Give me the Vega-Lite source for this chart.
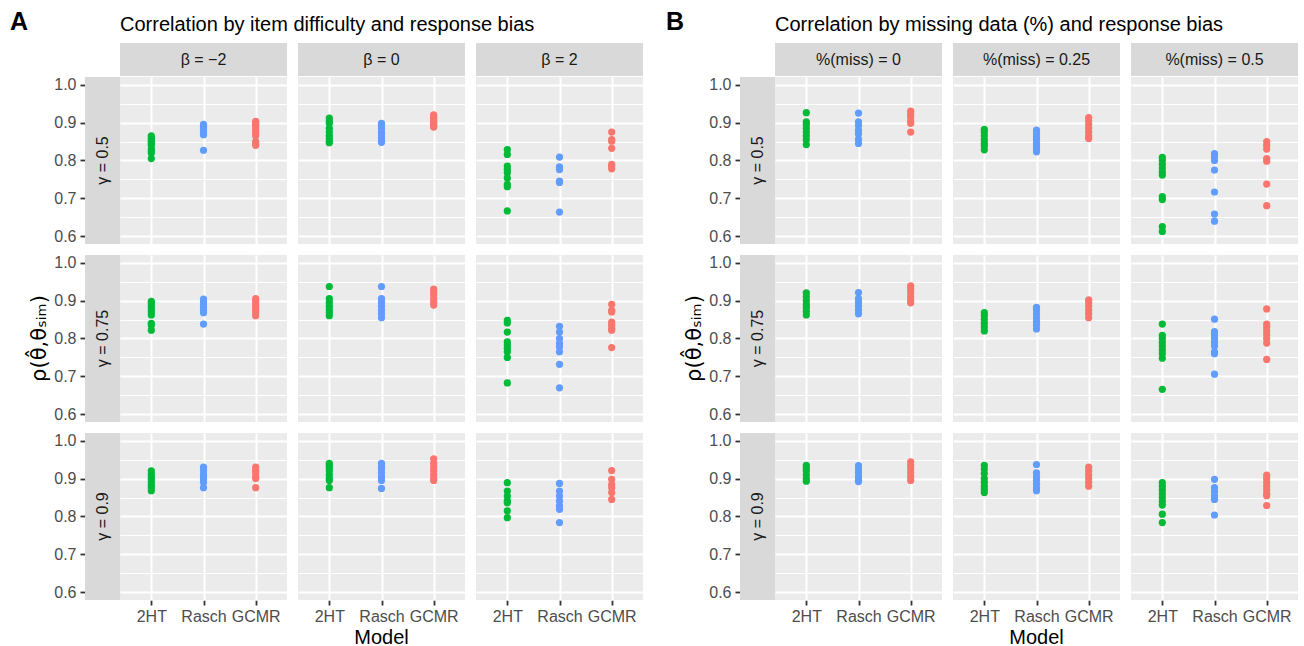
{
"$schema": "https://vega.github.io/schema/vega-lite/v6.json",
"background": "white",
"padding": {"left": 10, "top": 10, "right": 0, "bottom": 0},
"config": {"font": "Liberation Sans", "view": {"stroke": null}},
"datasets": {
"rowLab": [{"g":"γ = 0.5"},{"g":"γ = 0.75"},{"g":"γ = 0.9"}],
"colA": [{"c":"β = −2"},{"c":"β = 0"},{"c":"β = 2"}],
"colB": [{"c":"%(miss) = 0"},{"c":"%(miss) = 0.25"},{"c":"%(miss) = 0.5"}],
"a": [
{"g":0.5,"c":-2,"m":"2HT","r":0.865},{"g":0.5,"c":-2,"m":"2HT","r":0.86},{"g":0.5,"c":-2,"m":"2HT","r":0.855},{"g":0.5,"c":-2,"m":"2HT","r":0.85},{"g":0.5,"c":-2,"m":"2HT","r":0.845},{"g":0.5,"c":-2,"m":"2HT","r":0.84},{"g":0.5,"c":-2,"m":"2HT","r":0.83},{"g":0.5,"c":-2,"m":"2HT","r":0.825},{"g":0.5,"c":-2,"m":"2HT","r":0.82},{"g":0.5,"c":-2,"m":"2HT","r":0.805},
{"g":0.5,"c":-2,"m":"Rasch","r":0.895},{"g":0.5,"c":-2,"m":"Rasch","r":0.89},{"g":0.5,"c":-2,"m":"Rasch","r":0.885},{"g":0.5,"c":-2,"m":"Rasch","r":0.88},{"g":0.5,"c":-2,"m":"Rasch","r":0.875},{"g":0.5,"c":-2,"m":"Rasch","r":0.87},{"g":0.5,"c":-2,"m":"Rasch","r":0.868},{"g":0.5,"c":-2,"m":"Rasch","r":0.827},
{"g":0.5,"c":-2,"m":"GCMR","r":0.903},{"g":0.5,"c":-2,"m":"GCMR","r":0.898},{"g":0.5,"c":-2,"m":"GCMR","r":0.893},{"g":0.5,"c":-2,"m":"GCMR","r":0.888},{"g":0.5,"c":-2,"m":"GCMR","r":0.88},{"g":0.5,"c":-2,"m":"GCMR","r":0.872},{"g":0.5,"c":-2,"m":"GCMR","r":0.865},{"g":0.5,"c":-2,"m":"GCMR","r":0.85},{"g":0.5,"c":-2,"m":"GCMR","r":0.845},{"g":0.5,"c":-2,"m":"GCMR","r":0.84},
{"g":0.5,"c":0,"m":"2HT","r":0.912},{"g":0.5,"c":0,"m":"2HT","r":0.905},{"g":0.5,"c":0,"m":"2HT","r":0.898},{"g":0.5,"c":0,"m":"2HT","r":0.885},{"g":0.5,"c":0,"m":"2HT","r":0.875},{"g":0.5,"c":0,"m":"2HT","r":0.865},{"g":0.5,"c":0,"m":"2HT","r":0.858},{"g":0.5,"c":0,"m":"2HT","r":0.85},{"g":0.5,"c":0,"m":"2HT","r":0.847},
{"g":0.5,"c":0,"m":"Rasch","r":0.898},{"g":0.5,"c":0,"m":"Rasch","r":0.893},{"g":0.5,"c":0,"m":"Rasch","r":0.885},{"g":0.5,"c":0,"m":"Rasch","r":0.875},{"g":0.5,"c":0,"m":"Rasch","r":0.868},{"g":0.5,"c":0,"m":"Rasch","r":0.86},{"g":0.5,"c":0,"m":"Rasch","r":0.853},{"g":0.5,"c":0,"m":"Rasch","r":0.848},
{"g":0.5,"c":0,"m":"GCMR","r":0.92},{"g":0.5,"c":0,"m":"GCMR","r":0.915},{"g":0.5,"c":0,"m":"GCMR","r":0.91},{"g":0.5,"c":0,"m":"GCMR","r":0.905},{"g":0.5,"c":0,"m":"GCMR","r":0.9},{"g":0.5,"c":0,"m":"GCMR","r":0.895},{"g":0.5,"c":0,"m":"GCMR","r":0.89},{"g":0.5,"c":0,"m":"GCMR","r":0.888},
{"g":0.5,"c":2,"m":"2HT","r":0.829},{"g":0.5,"c":2,"m":"2HT","r":0.816},{"g":0.5,"c":2,"m":"2HT","r":0.785},{"g":0.5,"c":2,"m":"2HT","r":0.776},{"g":0.5,"c":2,"m":"2HT","r":0.768},{"g":0.5,"c":2,"m":"2HT","r":0.754},{"g":0.5,"c":2,"m":"2HT","r":0.737},{"g":0.5,"c":2,"m":"2HT","r":0.731},{"g":0.5,"c":2,"m":"2HT","r":0.667},
{"g":0.5,"c":2,"m":"Rasch","r":0.809},{"g":0.5,"c":2,"m":"Rasch","r":0.783},{"g":0.5,"c":2,"m":"Rasch","r":0.776},{"g":0.5,"c":2,"m":"Rasch","r":0.746},{"g":0.5,"c":2,"m":"Rasch","r":0.742},{"g":0.5,"c":2,"m":"Rasch","r":0.664},
{"g":0.5,"c":2,"m":"GCMR","r":0.875},{"g":0.5,"c":2,"m":"GCMR","r":0.855},{"g":0.5,"c":2,"m":"GCMR","r":0.851},{"g":0.5,"c":2,"m":"GCMR","r":0.832},{"g":0.5,"c":2,"m":"GCMR","r":0.79},{"g":0.5,"c":2,"m":"GCMR","r":0.785},{"g":0.5,"c":2,"m":"GCMR","r":0.778},
{"g":0.75,"c":-2,"m":"2HT","r":0.898},{"g":0.75,"c":-2,"m":"2HT","r":0.892},{"g":0.75,"c":-2,"m":"2HT","r":0.885},{"g":0.75,"c":-2,"m":"2HT","r":0.878},{"g":0.75,"c":-2,"m":"2HT","r":0.87},{"g":0.75,"c":-2,"m":"2HT","r":0.862},{"g":0.75,"c":-2,"m":"2HT","r":0.84},{"g":0.75,"c":-2,"m":"2HT","r":0.835},{"g":0.75,"c":-2,"m":"2HT","r":0.822},
{"g":0.75,"c":-2,"m":"Rasch","r":0.904},{"g":0.75,"c":-2,"m":"Rasch","r":0.897},{"g":0.75,"c":-2,"m":"Rasch","r":0.89},{"g":0.75,"c":-2,"m":"Rasch","r":0.882},{"g":0.75,"c":-2,"m":"Rasch","r":0.875},{"g":0.75,"c":-2,"m":"Rasch","r":0.868},{"g":0.75,"c":-2,"m":"Rasch","r":0.838},
{"g":0.75,"c":-2,"m":"GCMR","r":0.905},{"g":0.75,"c":-2,"m":"GCMR","r":0.898},{"g":0.75,"c":-2,"m":"GCMR","r":0.89},{"g":0.75,"c":-2,"m":"GCMR","r":0.882},{"g":0.75,"c":-2,"m":"GCMR","r":0.875},{"g":0.75,"c":-2,"m":"GCMR","r":0.868},{"g":0.75,"c":-2,"m":"GCMR","r":0.86},
{"g":0.75,"c":0,"m":"2HT","r":0.937},{"g":0.75,"c":0,"m":"2HT","r":0.905},{"g":0.75,"c":0,"m":"2HT","r":0.895},{"g":0.75,"c":0,"m":"2HT","r":0.885},{"g":0.75,"c":0,"m":"2HT","r":0.876},{"g":0.75,"c":0,"m":"2HT","r":0.868},{"g":0.75,"c":0,"m":"2HT","r":0.86},
{"g":0.75,"c":0,"m":"Rasch","r":0.937},{"g":0.75,"c":0,"m":"Rasch","r":0.905},{"g":0.75,"c":0,"m":"Rasch","r":0.895},{"g":0.75,"c":0,"m":"Rasch","r":0.885},{"g":0.75,"c":0,"m":"Rasch","r":0.875},{"g":0.75,"c":0,"m":"Rasch","r":0.865},{"g":0.75,"c":0,"m":"Rasch","r":0.855},
{"g":0.75,"c":0,"m":"GCMR","r":0.93},{"g":0.75,"c":0,"m":"GCMR","r":0.922},{"g":0.75,"c":0,"m":"GCMR","r":0.915},{"g":0.75,"c":0,"m":"GCMR","r":0.905},{"g":0.75,"c":0,"m":"GCMR","r":0.895},{"g":0.75,"c":0,"m":"GCMR","r":0.888},
{"g":0.75,"c":2,"m":"2HT","r":0.848},{"g":0.75,"c":2,"m":"2HT","r":0.841},{"g":0.75,"c":2,"m":"2HT","r":0.817},{"g":0.75,"c":2,"m":"2HT","r":0.791},{"g":0.75,"c":2,"m":"2HT","r":0.783},{"g":0.75,"c":2,"m":"2HT","r":0.774},{"g":0.75,"c":2,"m":"2HT","r":0.765},{"g":0.75,"c":2,"m":"2HT","r":0.75},{"g":0.75,"c":2,"m":"2HT","r":0.683},
{"g":0.75,"c":2,"m":"Rasch","r":0.832},{"g":0.75,"c":2,"m":"Rasch","r":0.817},{"g":0.75,"c":2,"m":"Rasch","r":0.8},{"g":0.75,"c":2,"m":"Rasch","r":0.787},{"g":0.75,"c":2,"m":"Rasch","r":0.778},{"g":0.75,"c":2,"m":"Rasch","r":0.765},{"g":0.75,"c":2,"m":"Rasch","r":0.732},{"g":0.75,"c":2,"m":"Rasch","r":0.67},
{"g":0.75,"c":2,"m":"GCMR","r":0.89},{"g":0.75,"c":2,"m":"GCMR","r":0.874},{"g":0.75,"c":2,"m":"GCMR","r":0.87},{"g":0.75,"c":2,"m":"GCMR","r":0.843},{"g":0.75,"c":2,"m":"GCMR","r":0.835},{"g":0.75,"c":2,"m":"GCMR","r":0.826},{"g":0.75,"c":2,"m":"GCMR","r":0.822},{"g":0.75,"c":2,"m":"GCMR","r":0.776},
{"g":0.9,"c":-2,"m":"2HT","r":0.92},{"g":0.9,"c":-2,"m":"2HT","r":0.912},{"g":0.9,"c":-2,"m":"2HT","r":0.905},{"g":0.9,"c":-2,"m":"2HT","r":0.898},{"g":0.9,"c":-2,"m":"2HT","r":0.89},{"g":0.9,"c":-2,"m":"2HT","r":0.882},{"g":0.9,"c":-2,"m":"2HT","r":0.875},{"g":0.9,"c":-2,"m":"2HT","r":0.868},
{"g":0.9,"c":-2,"m":"Rasch","r":0.93},{"g":0.9,"c":-2,"m":"Rasch","r":0.922},{"g":0.9,"c":-2,"m":"Rasch","r":0.912},{"g":0.9,"c":-2,"m":"Rasch","r":0.905},{"g":0.9,"c":-2,"m":"Rasch","r":0.898},{"g":0.9,"c":-2,"m":"Rasch","r":0.89},{"g":0.9,"c":-2,"m":"Rasch","r":0.876},
{"g":0.9,"c":-2,"m":"GCMR","r":0.93},{"g":0.9,"c":-2,"m":"GCMR","r":0.922},{"g":0.9,"c":-2,"m":"GCMR","r":0.915},{"g":0.9,"c":-2,"m":"GCMR","r":0.905},{"g":0.9,"c":-2,"m":"GCMR","r":0.9},{"g":0.9,"c":-2,"m":"GCMR","r":0.876},
{"g":0.9,"c":0,"m":"2HT","r":0.94},{"g":0.9,"c":0,"m":"2HT","r":0.935},{"g":0.9,"c":0,"m":"2HT","r":0.928},{"g":0.9,"c":0,"m":"2HT","r":0.92},{"g":0.9,"c":0,"m":"2HT","r":0.91},{"g":0.9,"c":0,"m":"2HT","r":0.9},{"g":0.9,"c":0,"m":"2HT","r":0.895},{"g":0.9,"c":0,"m":"2HT","r":0.876},
{"g":0.9,"c":0,"m":"Rasch","r":0.94},{"g":0.9,"c":0,"m":"Rasch","r":0.932},{"g":0.9,"c":0,"m":"Rasch","r":0.925},{"g":0.9,"c":0,"m":"Rasch","r":0.915},{"g":0.9,"c":0,"m":"Rasch","r":0.905},{"g":0.9,"c":0,"m":"Rasch","r":0.895},{"g":0.9,"c":0,"m":"Rasch","r":0.874},
{"g":0.9,"c":0,"m":"GCMR","r":0.952},{"g":0.9,"c":0,"m":"GCMR","r":0.94},{"g":0.9,"c":0,"m":"GCMR","r":0.93},{"g":0.9,"c":0,"m":"GCMR","r":0.92},{"g":0.9,"c":0,"m":"GCMR","r":0.91},{"g":0.9,"c":0,"m":"GCMR","r":0.9},{"g":0.9,"c":0,"m":"GCMR","r":0.895},
{"g":0.9,"c":2,"m":"2HT","r":0.889},{"g":0.9,"c":2,"m":"2HT","r":0.867},{"g":0.9,"c":2,"m":"2HT","r":0.854},{"g":0.9,"c":2,"m":"2HT","r":0.841},{"g":0.9,"c":2,"m":"2HT","r":0.836},{"g":0.9,"c":2,"m":"2HT","r":0.815},{"g":0.9,"c":2,"m":"2HT","r":0.797},
{"g":0.9,"c":2,"m":"Rasch","r":0.887},{"g":0.9,"c":2,"m":"Rasch","r":0.867},{"g":0.9,"c":2,"m":"Rasch","r":0.854},{"g":0.9,"c":2,"m":"Rasch","r":0.841},{"g":0.9,"c":2,"m":"Rasch","r":0.828},{"g":0.9,"c":2,"m":"Rasch","r":0.819},{"g":0.9,"c":2,"m":"Rasch","r":0.784},
{"g":0.9,"c":2,"m":"GCMR","r":0.921},{"g":0.9,"c":2,"m":"GCMR","r":0.898},{"g":0.9,"c":2,"m":"GCMR","r":0.884},{"g":0.9,"c":2,"m":"GCMR","r":0.876},{"g":0.9,"c":2,"m":"GCMR","r":0.863},{"g":0.9,"c":2,"m":"GCMR","r":0.845}
],
"b": [
{"g":0.5,"c":0,"m":"2HT","r":0.926},{"g":0.5,"c":0,"m":"2HT","r":0.902},{"g":0.5,"c":0,"m":"2HT","r":0.895},{"g":0.5,"c":0,"m":"2HT","r":0.885},{"g":0.5,"c":0,"m":"2HT","r":0.875},{"g":0.5,"c":0,"m":"2HT","r":0.865},{"g":0.5,"c":0,"m":"2HT","r":0.855},{"g":0.5,"c":0,"m":"2HT","r":0.842},
{"g":0.5,"c":0,"m":"Rasch","r":0.925},{"g":0.5,"c":0,"m":"Rasch","r":0.902},{"g":0.5,"c":0,"m":"Rasch","r":0.892},{"g":0.5,"c":0,"m":"Rasch","r":0.88},{"g":0.5,"c":0,"m":"Rasch","r":0.87},{"g":0.5,"c":0,"m":"Rasch","r":0.856},{"g":0.5,"c":0,"m":"Rasch","r":0.845},
{"g":0.5,"c":0,"m":"GCMR","r":0.93},{"g":0.5,"c":0,"m":"GCMR","r":0.922},{"g":0.5,"c":0,"m":"GCMR","r":0.915},{"g":0.5,"c":0,"m":"GCMR","r":0.905},{"g":0.5,"c":0,"m":"GCMR","r":0.898},{"g":0.5,"c":0,"m":"GCMR","r":0.875},
{"g":0.5,"c":0.25,"m":"2HT","r":0.882},{"g":0.5,"c":0.25,"m":"2HT","r":0.875},{"g":0.5,"c":0.25,"m":"2HT","r":0.865},{"g":0.5,"c":0.25,"m":"2HT","r":0.855},{"g":0.5,"c":0.25,"m":"2HT","r":0.845},{"g":0.5,"c":0.25,"m":"2HT","r":0.838},{"g":0.5,"c":0.25,"m":"2HT","r":0.828},
{"g":0.5,"c":0.25,"m":"Rasch","r":0.88},{"g":0.5,"c":0.25,"m":"Rasch","r":0.872},{"g":0.5,"c":0.25,"m":"Rasch","r":0.862},{"g":0.5,"c":0.25,"m":"Rasch","r":0.855},{"g":0.5,"c":0.25,"m":"Rasch","r":0.845},{"g":0.5,"c":0.25,"m":"Rasch","r":0.838},{"g":0.5,"c":0.25,"m":"Rasch","r":0.83},{"g":0.5,"c":0.25,"m":"Rasch","r":0.823},
{"g":0.5,"c":0.25,"m":"GCMR","r":0.913},{"g":0.5,"c":0.25,"m":"GCMR","r":0.905},{"g":0.5,"c":0.25,"m":"GCMR","r":0.895},{"g":0.5,"c":0.25,"m":"GCMR","r":0.885},{"g":0.5,"c":0.25,"m":"GCMR","r":0.875},{"g":0.5,"c":0.25,"m":"GCMR","r":0.865},{"g":0.5,"c":0.25,"m":"GCMR","r":0.858},
{"g":0.5,"c":0.5,"m":"2HT","r":0.808},{"g":0.5,"c":0.5,"m":"2HT","r":0.8},{"g":0.5,"c":0.5,"m":"2HT","r":0.79},{"g":0.5,"c":0.5,"m":"2HT","r":0.78},{"g":0.5,"c":0.5,"m":"2HT","r":0.77},{"g":0.5,"c":0.5,"m":"2HT","r":0.762},{"g":0.5,"c":0.5,"m":"2HT","r":0.705},{"g":0.5,"c":0.5,"m":"2HT","r":0.697},{"g":0.5,"c":0.5,"m":"2HT","r":0.626},{"g":0.5,"c":0.5,"m":"2HT","r":0.613},
{"g":0.5,"c":0.5,"m":"Rasch","r":0.818},{"g":0.5,"c":0.5,"m":"Rasch","r":0.81},{"g":0.5,"c":0.5,"m":"Rasch","r":0.8},{"g":0.5,"c":0.5,"m":"Rasch","r":0.775},{"g":0.5,"c":0.5,"m":"Rasch","r":0.717},{"g":0.5,"c":0.5,"m":"Rasch","r":0.659},{"g":0.5,"c":0.5,"m":"Rasch","r":0.64},
{"g":0.5,"c":0.5,"m":"GCMR","r":0.85},{"g":0.5,"c":0.5,"m":"GCMR","r":0.84},{"g":0.5,"c":0.5,"m":"GCMR","r":0.83},{"g":0.5,"c":0.5,"m":"GCMR","r":0.805},{"g":0.5,"c":0.5,"m":"GCMR","r":0.798},{"g":0.5,"c":0.5,"m":"GCMR","r":0.738},{"g":0.5,"c":0.5,"m":"GCMR","r":0.681},
{"g":0.75,"c":0,"m":"2HT","r":0.92},{"g":0.75,"c":0,"m":"2HT","r":0.91},{"g":0.75,"c":0,"m":"2HT","r":0.9},{"g":0.75,"c":0,"m":"2HT","r":0.89},{"g":0.75,"c":0,"m":"2HT","r":0.882},{"g":0.75,"c":0,"m":"2HT","r":0.872},{"g":0.75,"c":0,"m":"2HT","r":0.862},
{"g":0.75,"c":0,"m":"Rasch","r":0.921},{"g":0.75,"c":0,"m":"Rasch","r":0.905},{"g":0.75,"c":0,"m":"Rasch","r":0.895},{"g":0.75,"c":0,"m":"Rasch","r":0.885},{"g":0.75,"c":0,"m":"Rasch","r":0.875},{"g":0.75,"c":0,"m":"Rasch","r":0.865},
{"g":0.75,"c":0,"m":"GCMR","r":0.939},{"g":0.75,"c":0,"m":"GCMR","r":0.93},{"g":0.75,"c":0,"m":"GCMR","r":0.92},{"g":0.75,"c":0,"m":"GCMR","r":0.91},{"g":0.75,"c":0,"m":"GCMR","r":0.9},{"g":0.75,"c":0,"m":"GCMR","r":0.894},
{"g":0.75,"c":0.25,"m":"2HT","r":0.868},{"g":0.75,"c":0.25,"m":"2HT","r":0.86},{"g":0.75,"c":0.25,"m":"2HT","r":0.85},{"g":0.75,"c":0.25,"m":"2HT","r":0.84},{"g":0.75,"c":0.25,"m":"2HT","r":0.83},{"g":0.75,"c":0.25,"m":"2HT","r":0.82},
{"g":0.75,"c":0.25,"m":"Rasch","r":0.882},{"g":0.75,"c":0.25,"m":"Rasch","r":0.875},{"g":0.75,"c":0.25,"m":"Rasch","r":0.865},{"g":0.75,"c":0.25,"m":"Rasch","r":0.855},{"g":0.75,"c":0.25,"m":"Rasch","r":0.845},{"g":0.75,"c":0.25,"m":"Rasch","r":0.835},{"g":0.75,"c":0.25,"m":"Rasch","r":0.825},
{"g":0.75,"c":0.25,"m":"GCMR","r":0.902},{"g":0.75,"c":0.25,"m":"GCMR","r":0.895},{"g":0.75,"c":0.25,"m":"GCMR","r":0.885},{"g":0.75,"c":0.25,"m":"GCMR","r":0.875},{"g":0.75,"c":0.25,"m":"GCMR","r":0.865},{"g":0.75,"c":0.25,"m":"GCMR","r":0.855},
{"g":0.75,"c":0.5,"m":"2HT","r":0.838},{"g":0.75,"c":0.5,"m":"2HT","r":0.808},{"g":0.75,"c":0.5,"m":"2HT","r":0.8},{"g":0.75,"c":0.5,"m":"2HT","r":0.79},{"g":0.75,"c":0.5,"m":"2HT","r":0.78},{"g":0.75,"c":0.5,"m":"2HT","r":0.77},{"g":0.75,"c":0.5,"m":"2HT","r":0.76},{"g":0.75,"c":0.5,"m":"2HT","r":0.748},{"g":0.75,"c":0.5,"m":"2HT","r":0.666},
{"g":0.75,"c":0.5,"m":"Rasch","r":0.851},{"g":0.75,"c":0.5,"m":"Rasch","r":0.818},{"g":0.75,"c":0.5,"m":"Rasch","r":0.81},{"g":0.75,"c":0.5,"m":"Rasch","r":0.8},{"g":0.75,"c":0.5,"m":"Rasch","r":0.79},{"g":0.75,"c":0.5,"m":"Rasch","r":0.78},{"g":0.75,"c":0.5,"m":"Rasch","r":0.765},{"g":0.75,"c":0.5,"m":"Rasch","r":0.76},{"g":0.75,"c":0.5,"m":"Rasch","r":0.706},
{"g":0.75,"c":0.5,"m":"GCMR","r":0.878},{"g":0.75,"c":0.5,"m":"GCMR","r":0.838},{"g":0.75,"c":0.5,"m":"GCMR","r":0.83},{"g":0.75,"c":0.5,"m":"GCMR","r":0.82},{"g":0.75,"c":0.5,"m":"GCMR","r":0.81},{"g":0.75,"c":0.5,"m":"GCMR","r":0.8},{"g":0.75,"c":0.5,"m":"GCMR","r":0.788},{"g":0.75,"c":0.5,"m":"GCMR","r":0.745},
{"g":0.9,"c":0,"m":"2HT","r":0.935},{"g":0.9,"c":0,"m":"2HT","r":0.928},{"g":0.9,"c":0,"m":"2HT","r":0.92},{"g":0.9,"c":0,"m":"2HT","r":0.91},{"g":0.9,"c":0,"m":"2HT","r":0.9},{"g":0.9,"c":0,"m":"2HT","r":0.893},
{"g":0.9,"c":0,"m":"Rasch","r":0.934},{"g":0.9,"c":0,"m":"Rasch","r":0.925},{"g":0.9,"c":0,"m":"Rasch","r":0.915},{"g":0.9,"c":0,"m":"Rasch","r":0.905},{"g":0.9,"c":0,"m":"Rasch","r":0.895},{"g":0.9,"c":0,"m":"Rasch","r":0.892},
{"g":0.9,"c":0,"m":"GCMR","r":0.944},{"g":0.9,"c":0,"m":"GCMR","r":0.935},{"g":0.9,"c":0,"m":"GCMR","r":0.925},{"g":0.9,"c":0,"m":"GCMR","r":0.915},{"g":0.9,"c":0,"m":"GCMR","r":0.905},{"g":0.9,"c":0,"m":"GCMR","r":0.895},
{"g":0.9,"c":0.25,"m":"2HT","r":0.935},{"g":0.9,"c":0.25,"m":"2HT","r":0.925},{"g":0.9,"c":0.25,"m":"2HT","r":0.913},{"g":0.9,"c":0.25,"m":"2HT","r":0.9},{"g":0.9,"c":0.25,"m":"2HT","r":0.89},{"g":0.9,"c":0.25,"m":"2HT","r":0.88},{"g":0.9,"c":0.25,"m":"2HT","r":0.872},{"g":0.9,"c":0.25,"m":"2HT","r":0.863},
{"g":0.9,"c":0.25,"m":"Rasch","r":0.937},{"g":0.9,"c":0.25,"m":"Rasch","r":0.915},{"g":0.9,"c":0.25,"m":"Rasch","r":0.905},{"g":0.9,"c":0.25,"m":"Rasch","r":0.895},{"g":0.9,"c":0.25,"m":"Rasch","r":0.885},{"g":0.9,"c":0.25,"m":"Rasch","r":0.875},{"g":0.9,"c":0.25,"m":"Rasch","r":0.868},
{"g":0.9,"c":0.25,"m":"GCMR","r":0.93},{"g":0.9,"c":0.25,"m":"GCMR","r":0.92},{"g":0.9,"c":0.25,"m":"GCMR","r":0.91},{"g":0.9,"c":0.25,"m":"GCMR","r":0.9},{"g":0.9,"c":0.25,"m":"GCMR","r":0.89},{"g":0.9,"c":0.25,"m":"GCMR","r":0.88},
{"g":0.9,"c":0.5,"m":"2HT","r":0.889},{"g":0.9,"c":0.5,"m":"2HT","r":0.88},{"g":0.9,"c":0.5,"m":"2HT","r":0.87},{"g":0.9,"c":0.5,"m":"2HT","r":0.86},{"g":0.9,"c":0.5,"m":"2HT","r":0.85},{"g":0.9,"c":0.5,"m":"2HT","r":0.84},{"g":0.9,"c":0.5,"m":"2HT","r":0.83},{"g":0.9,"c":0.5,"m":"2HT","r":0.806},{"g":0.9,"c":0.5,"m":"2HT","r":0.784},
{"g":0.9,"c":0.5,"m":"Rasch","r":0.898},{"g":0.9,"c":0.5,"m":"Rasch","r":0.876},{"g":0.9,"c":0.5,"m":"Rasch","r":0.866},{"g":0.9,"c":0.5,"m":"Rasch","r":0.855},{"g":0.9,"c":0.5,"m":"Rasch","r":0.845},{"g":0.9,"c":0.5,"m":"Rasch","r":0.804},
{"g":0.9,"c":0.5,"m":"GCMR","r":0.909},{"g":0.9,"c":0.5,"m":"GCMR","r":0.9},{"g":0.9,"c":0.5,"m":"GCMR","r":0.89},{"g":0.9,"c":0.5,"m":"GCMR","r":0.88},{"g":0.9,"c":0.5,"m":"GCMR","r":0.87},{"g":0.9,"c":0.5,"m":"GCMR","r":0.86},{"g":0.9,"c":0.5,"m":"GCMR","r":0.855},{"g":0.9,"c":0.5,"m":"GCMR","r":0.829}
]
},
"spacing": 23,
"hconcat": [
{
"columns": 2, "align": "each", "spacing": {"row": 0, "column": 0},
"concat": [
{"data": {"values": [{"k": 1}]}, "width": 35, "height": 33, "mark": {"type": "text", "text": ""},
 "title": {"text": "A", "anchor": "start", "dx": -75, "fontSize": 25, "fontWeight": "bold", "color": "black", "offset": 8}},
{"data": {"name": "colA"},
 "facet": {"column": {"field": "c", "type": "ordinal", "sort": ["β = −2", "β = 0", "β = 2"], "header": null}},
 "spacing": 11,
 "title": {"text": "Correlation by item difficulty and response bias", "anchor": "start", "fontSize": 20, "fontWeight": "normal", "color": "black", "offset": 8},
 "spec": {"width": 167, "height": 33, "view": {"fill": "#D9D9D9", "stroke": null},
  "mark": {"type": "text", "fontSize": 16, "color": "#1A1A1A"},
  "encoding": {"text": {"field": "c"}}}},
{"data": {"name": "rowLab"},
 "facet": {"row": {"field": "g", "type": "ordinal", "sort": ["γ = 0.5", "γ = 0.75", "γ = 0.9"], "header": null}},
 "spacing": 11,
 "title": {"text": "ρ(θ̂,θₛᵢₘ)", "orient": "left", "anchor": "middle", "font": "DejaVu Sans", "fontSize": 21, "fontWeight": "normal", "color": "black", "offset": 4},
 "spec": {"width": 35, "height": 167, "view": {"fill": "#D9D9D9", "stroke": null},
  "mark": {"type": "text", "angle": 270, "fontSize": 16, "color": "#1A1A1A"},
  "encoding": {"text": {"field": "g"},
   "y": {"datum": 0.8, "type": "quantitative", "scale": {"domain": [0.58, 1.02], "nice": false, "zero": false},
    "axis": {"title": null, "values": [0.6, 0.7, 0.8, 0.9, 1.0], "format": ".1f", "grid": false, "domain": false, "ticks": true, "tickSize": 5, "tickWidth": 1.8, "tickColor": "#333333", "labelColor": "#4D4D4D", "labelFontSize": 16, "labelPadding": 4}}}}},
{"data": {"name": "a"},
 "facet": {"row": {"field": "g", "type": "ordinal", "sort": [0.5, 0.75, 0.9], "header": null},
           "column": {"field": "c", "type": "ordinal", "sort": [-2, 0, 2], "header": null}},
 "spacing": {"row": 11, "column": 11},
 "title": {"text": "Model", "orient": "bottom", "anchor": "middle", "fontSize": 20, "fontWeight": "normal", "color": "black", "offset": 4},
 "spec": {"width": 167, "height": 167, "view": {"fill": "#EBEBEB", "stroke": null},
  "mark": {"type": "circle", "size": 52, "opacity": 1},
  "encoding": {
   "x": {"field": "m", "type": "nominal", "sort": ["2HT", "Rasch", "GCMR"], "scale": {"type": "point", "padding": 0.6},
    "axis": {"title": null, "labelAngle": 0, "grid": true, "gridColor": "#FFFFFF", "gridWidth": 2, "domain": false, "ticks": true, "tickSize": 5, "tickWidth": 1.8, "tickColor": "#333333", "labelColor": "#4D4D4D", "labelFontSize": 16, "labelPadding": 3}},
   "y": {"field": "r", "type": "quantitative", "scale": {"domain": [0.58, 1.02], "nice": false, "zero": false},
    "axis": {"title": null, "values": [0.6, 0.65, 0.7, 0.75, 0.8, 0.85, 0.9, 0.95, 1.0], "labels": false, "ticks": false, "domain": false, "grid": true, "gridColor": "#FFFFFF",
     "gridWidth": {"condition": {"test": "round(datum.value*100) % 10 === 0", "value": 2}, "value": 1}}},
   "color": {"field": "m", "type": "nominal", "scale": {"domain": ["2HT", "Rasch", "GCMR"], "range": ["#00BA38", "#619CFF", "#F8766D"]}, "legend": null}}}}
]
},
{
"columns": 2, "align": "each", "spacing": {"row": 0, "column": 0},
"concat": [
{"data": {"values": [{"k": 1}]}, "width": 35, "height": 33, "mark": {"type": "text", "text": ""},
 "title": {"text": "B", "anchor": "start", "dx": -74, "fontSize": 25, "fontWeight": "bold", "color": "black", "offset": 8}},
{"data": {"name": "colB"},
 "facet": {"column": {"field": "c", "type": "ordinal", "sort": ["%(miss) = 0", "%(miss) = 0.25", "%(miss) = 0.5"], "header": null}},
 "spacing": 11,
 "title": {"text": "Correlation by missing data (%) and response bias", "anchor": "start", "fontSize": 20, "fontWeight": "normal", "color": "black", "offset": 8},
 "spec": {"width": 167, "height": 33, "view": {"fill": "#D9D9D9", "stroke": null},
  "mark": {"type": "text", "fontSize": 16, "color": "#1A1A1A"},
  "encoding": {"text": {"field": "c"}}}},
{"data": {"name": "rowLab"},
 "facet": {"row": {"field": "g", "type": "ordinal", "sort": ["γ = 0.5", "γ = 0.75", "γ = 0.9"], "header": null}},
 "spacing": 11,
 "title": {"text": "ρ(θ̂,θₛᵢₘ)", "orient": "left", "anchor": "middle", "font": "DejaVu Sans", "fontSize": 21, "fontWeight": "normal", "color": "black", "offset": 4},
 "spec": {"width": 35, "height": 167, "view": {"fill": "#D9D9D9", "stroke": null},
  "mark": {"type": "text", "angle": 270, "fontSize": 16, "color": "#1A1A1A"},
  "encoding": {"text": {"field": "g"},
   "y": {"datum": 0.8, "type": "quantitative", "scale": {"domain": [0.58, 1.02], "nice": false, "zero": false},
    "axis": {"title": null, "values": [0.6, 0.7, 0.8, 0.9, 1.0], "format": ".1f", "grid": false, "domain": false, "ticks": true, "tickSize": 5, "tickWidth": 1.8, "tickColor": "#333333", "labelColor": "#4D4D4D", "labelFontSize": 16, "labelPadding": 4}}}}},
{"data": {"name": "b"},
 "facet": {"row": {"field": "g", "type": "ordinal", "sort": [0.5, 0.75, 0.9], "header": null},
           "column": {"field": "c", "type": "ordinal", "sort": [0, 0.25, 0.5], "header": null}},
 "spacing": {"row": 11, "column": 11},
 "title": {"text": "Model", "orient": "bottom", "anchor": "middle", "fontSize": 20, "fontWeight": "normal", "color": "black", "offset": 4},
 "spec": {"width": 167, "height": 167, "view": {"fill": "#EBEBEB", "stroke": null},
  "mark": {"type": "circle", "size": 52, "opacity": 1},
  "encoding": {
   "x": {"field": "m", "type": "nominal", "sort": ["2HT", "Rasch", "GCMR"], "scale": {"type": "point", "padding": 0.6},
    "axis": {"title": null, "labelAngle": 0, "grid": true, "gridColor": "#FFFFFF", "gridWidth": 2, "domain": false, "ticks": true, "tickSize": 5, "tickWidth": 1.8, "tickColor": "#333333", "labelColor": "#4D4D4D", "labelFontSize": 16, "labelPadding": 3}},
   "y": {"field": "r", "type": "quantitative", "scale": {"domain": [0.58, 1.02], "nice": false, "zero": false},
    "axis": {"title": null, "values": [0.6, 0.65, 0.7, 0.75, 0.8, 0.85, 0.9, 0.95, 1.0], "labels": false, "ticks": false, "domain": false, "grid": true, "gridColor": "#FFFFFF",
     "gridWidth": {"condition": {"test": "round(datum.value*100) % 10 === 0", "value": 2}, "value": 1}}},
   "color": {"field": "m", "type": "nominal", "scale": {"domain": ["2HT", "Rasch", "GCMR"], "range": ["#00BA38", "#619CFF", "#F8766D"]}, "legend": null}}}}
]
}
]
}
